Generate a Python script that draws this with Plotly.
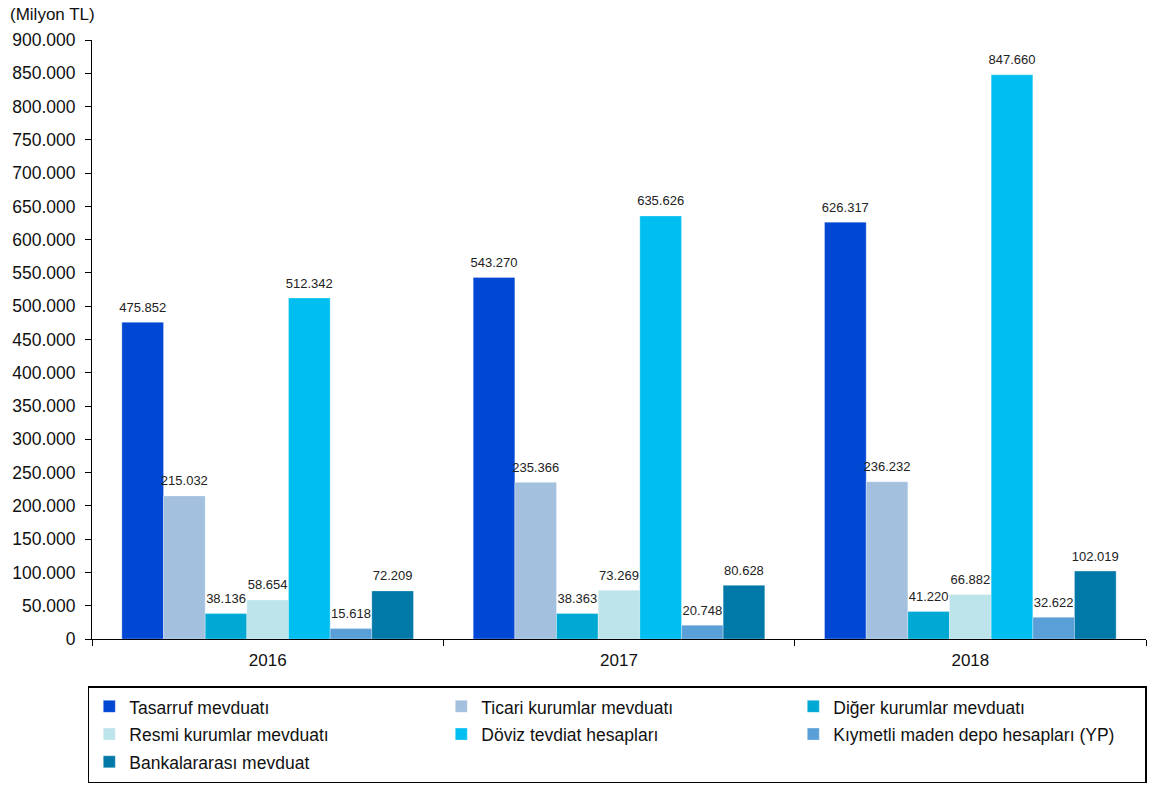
import plotly.graph_objects as go

years = ["2016", "2017", "2018"]
series_names = [
    "Tasarruf mevduatı",
    "Ticari kurumlar mevduatı",
    "Diğer kurumlar mevduatı",
    "Resmi kurumlar mevduatı",
    "Döviz tevdiat hesapları",
    "Kıymetli maden depo hesapları (YP)",
    "Bankalararası mevduat",
]
tasarruf = [475852, 543270, 626317]
ticari = [215032, 235366, 236232]
diger = [38136, 38363, 41220]
resmi = [58654, 73269, 66882]
doviz = [512342, 635626, 847660]
kiymetli = [15618, 20748, 32622]
bankalararasi = [72209, 80628, 102019]
tick_vals = list(range(0, 900001, 50000))

values = [tasarruf, ticari, diger, resmi, doviz, kiymetli, bankalararasi]
colors = ["#0047D4", "#A3C1DE", "#00A9D4", "#BDE4EB", "#00BFF0", "#5B9FD9", "#0079A8"]

font_family = "Liberation Sans, Arial, sans-serif"
GAP = 0.17

fig = go.Figure()
for name, vals, col in zip(series_names, values, colors):
    fig.add_trace(go.Bar(
        x=years, y=vals,
        name="<span style='font-size:17.5px'>" + name + "</span>",
        marker=dict(color=col, line=dict(color="rgba(255,255,255,0.6)", width=0.5)),
        hovertemplate=name + ": %{y:,d}<extra></extra>",
    ))
# value labels, grouped the same way as the bars
for name, vals in zip(series_names, values):
    fig.add_trace(go.Scatter(
        x=years, y=vals, mode="markers+text",
        texttemplate="%{y:,d}", textposition="top center",
        textfont=dict(size=13, color="#222222", family=font_family),
        marker=dict(size=10, opacity=0),
        showlegend=False, hoverinfo="skip", cliponaxis=False,
    ))

fig.update_layout(
    width=1154, height=785,
    separators=",.",
    barmode="group", bargap=GAP, bargroupgap=0,
    scattermode="group", scattergap=GAP,
    plot_bgcolor="white", paper_bgcolor="white",
    font=dict(family=font_family, size=17, color="#111111"),
    margin=dict(l=92, r=8, t=40, b=146, autoexpand=False),
    showlegend=True,
    legend=dict(
        orientation="h", x=-0.004, xanchor="left",
        y=-0.0785, yanchor="top",
        entrywidth=307, entrywidthmode="pixels",
        bordercolor="#000000", borderwidth=1.5,
        font=dict(size=19, family=font_family, color="#111111"),
        itemwidth=30, tracegroupgap=0,
    ),
)
fig.update_xaxes(
    type="category", showline=True, linecolor="black", linewidth=1,
    ticks="outside", tickson="boundaries", ticklen=6, tickcolor="black",
    ticklabelstandoff=6,
    tickfont=dict(size=17), showgrid=False, zeroline=False, automargin=False,
)
fig.update_yaxes(
    range=[0, 900000], tickvals=tick_vals, tickformat=",d",
    showline=True, linecolor="black", linewidth=1,
    ticks="outside", ticklen=6, tickcolor="black", ticklabelstandoff=6,
    tickfont=dict(size=17.5), showgrid=False, zeroline=False, automargin=False,
)
fig.add_annotation(
    text="(Milyon TL)", xref="paper", yref="paper", x=-0.0795, y=1.0,
    xanchor="left", yanchor="middle", yshift=26, showarrow=False,
    font=dict(size=17, family=font_family, color="#111111"),
)
fig.write_html("out.html", config={"displayModeBar": False},
               post_script="document.body.style.margin='0';")
